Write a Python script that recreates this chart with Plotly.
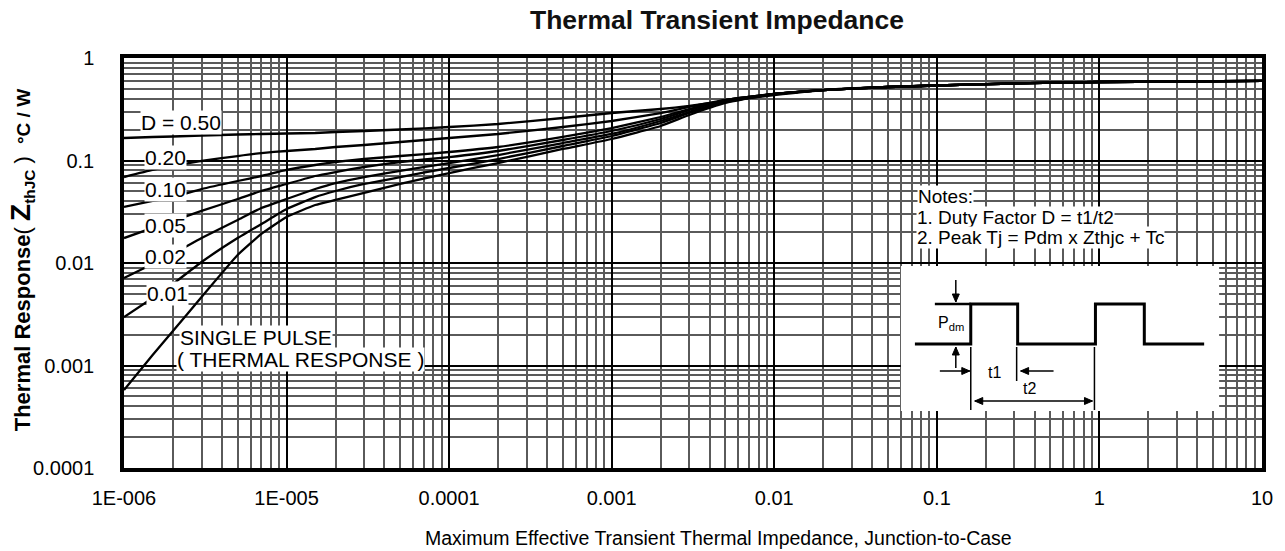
import math
import plotly.graph_objects as go

# ---------------- data ----------------
t_pulse = [1e-6, 1.5e-6, 2e-6, 3e-6, 5e-6, 7e-6, 1e-5, 1.5e-5, 2e-5, 3e-5, 5e-5,
           1e-4, 2e-4, 5e-4, 1e-3, 2e-3, 3e-3, 5e-3, 1e-2,
           2e-2, 5e-2, 0.1, 0.3, 1, 3, 10]

tail = [0.487, 0.521, 0.539, 0.564, 0.583, 0.590, 0.597]

z_d050 = [0.1658, 0.1696, 0.1714, 0.1754, 0.1793, 0.1814, 0.1834, 0.1855, 0.1897, 0.1940,
          0.2006, 0.2122, 0.2270, 0.2598, 0.2906, 0.3180, 0.3401, 0.3805, 0.4355] + tail
z_d020 = [0.0690, 0.0808, 0.0884, 0.0989, 0.1106, 0.1183, 0.1238, 0.1295, 0.1354, 0.1416,
          0.1515, 0.1658, 0.1814, 0.2122, 0.2428, 0.2906, 0.3327, 0.3892, 0.4455] + tail
z_d010 = [0.0352, 0.0403, 0.0440, 0.0527, 0.0631, 0.0706, 0.0808, 0.0904, 0.0967, 0.1034,
          0.1106, 0.1210, 0.1354, 0.1696, 0.2075, 0.2657, 0.3180, 0.3892, 0.4455] + tail
z_d005 = [0.0175, 0.0220, 0.0257, 0.0322, 0.0421, 0.0504, 0.0590, 0.0706, 0.0772, 0.0864,
          0.0967, 0.1081, 0.1238, 0.1585, 0.1940, 0.2541, 0.3109, 0.3892, 0.4455] + tail
z_d002 = [0.00714, 0.00978, 0.01224, 0.0175, 0.0263, 0.0344, 0.0421, 0.0527, 0.0603, 0.0690,
          0.0790, 0.0945, 0.1131, 0.1481, 0.1814, 0.2428, 0.2973, 0.3805, 0.4455] + tail
z_d001 = [0.00297, 0.00456, 0.00624, 0.01023, 0.0175, 0.0240, 0.0336, 0.0440, 0.0504, 0.0590,
          0.0690, 0.0845, 0.1034, 0.1385, 0.1734, 0.2322, 0.2906, 0.3721, 0.4455] + tail
z_single = [0.000577, 0.001265, 0.00217, 0.00466, 0.01197, 0.0192, 0.0281, 0.0368, 0.0412, 0.0482,
            0.0590, 0.0755, 0.0945, 0.1295, 0.1621, 0.2171, 0.2779, 0.3639, 0.4455] + tail

series_names = ["D = 0.50", "0.20", "0.10", "0.05", "0.02", "0.01", "SINGLE PULSE"]
series_values = [z_d050, z_d020, z_d010, z_d005, z_d002, z_d001, z_single]

x_tickvals = [1e-6, 1e-5, 1e-4, 1e-3, 1e-2, 1e-1, 1, 10]
x_ticktext = ["1E-006", "1E-005", "0.0001", "0.001", "0.01", "0.1", "1", "10"]
y_tickvals = [1e-4, 1e-3, 1e-2, 1e-1, 1]
y_ticktext = ["0.0001", "0.001", "0.01", "0.1", "1"]

# ---------------- layout helpers (pixel -> paper) ----------------
W, H = 1285, 551
L, R, T, B = 124, 1265, 58, 468


def PX(x):
    return (x - L) / (R - L)


def PY(y):
    return (B - y) / (B - T)


FONT = "Liberation Sans, Arial, sans-serif"

fig = go.Figure()
for name, vals in zip(series_names, series_values):
    fig.add_trace(go.Scatter(x=t_pulse, y=vals, mode="lines", name=name,
                             line=dict(color="#000000", width=2.3, shape="spline", smoothing=0.4),
                             showlegend=False, hoverinfo="x+y+name"))

axis_common = dict(
    type="log", showline=True, linewidth=3.5, linecolor="#000000", mirror=True,
    showgrid=True, gridcolor="#000000", gridwidth=2.4, zeroline=False,
    ticks="", tickfont=dict(family=FONT, size=20, color="#000000"),
    minor=dict(dtick="D1", showgrid=True, gridcolor="#5a5a5a", gridwidth=2, ticks=""),
)

fig.update_xaxes(range=[-6, 1], tickmode="array", tickvals=x_tickvals, ticktext=x_ticktext,
                 ticklabelstandoff=9, **axis_common)
fig.update_yaxes(range=[-4, 0], tickmode="array", tickvals=y_tickvals, ticktext=y_ticktext,
                 ticklabelstandoff=22, **axis_common)

annotations = []

# curve labels with white backing
label_specs = [
    ("D = 0.50", 140, 122),
    ("0.20", 144, 157),
    ("0.10", 144, 190),
    ("0.05", 144, 225),
    ("0.02", 144, 256),
    ("0.01", 146, 293),
    ("SINGLE PULSE", 179, 337),
    ("( THERMAL RESPONSE )", 176, 359),
]
for txt, lx, ly in label_specs:
    annotations.append(dict(text=txt, x=PX(lx), y=PY(ly), xref="paper", yref="paper",
                            xanchor="left", yanchor="middle", showarrow=False,
                            bgcolor="#ffffff", borderpad=0,
                            font=dict(family=FONT, size=21, color="#000000")))

# notes
notes_specs = [
    ("Notes:", 919, 196),
    ("1. Duty Factor D = t1/t2", 918, 217),
    ("2. Peak Tj = Pdm x Zthjc + Tc", 918, 238),
]
for txt, lx, ly in notes_specs:
    annotations.append(dict(text=txt, x=PX(lx), y=PY(ly), xref="paper", yref="paper",
                            xanchor="left", yanchor="middle", showarrow=False,
                            bgcolor="#ffffff", borderpad=0,
                            font=dict(family=FONT, size=19, color="#000000")))

# inset text
annotations += [
    dict(text="P<sub>dm</sub>", x=PX(953), y=PY(323), xref="paper", yref="paper",
         xanchor="center", yanchor="middle",
         showarrow=False, font=dict(family=FONT, size=16, color="#000000")),
    dict(text="t1", x=PX(997), y=PY(372), xref="paper", yref="paper",
         xanchor="center", yanchor="middle",
         showarrow=False, font=dict(family=FONT, size=16, color="#000000")),
    dict(text="t2", x=PX(1032), y=PY(388), xref="paper", yref="paper",
         xanchor="center", yanchor="middle",
         showarrow=False, font=dict(family=FONT, size=16, color="#000000")),
]

# axis titles
annotations.append(dict(
    text="Maximum Effective Transient Thermal Impedance, Junction-to-Case",
    x=PX(720), y=PY(538), xref="paper", yref="paper", showarrow=False,
    xanchor="center", yanchor="middle", font=dict(family=FONT, size=19.5, color="#000000")))
annotations.append(dict(
    text="<b>Thermal Response</b>( <b><span style='font-size:28px'>Z</span><sub>thJC</sub></b> )  "
         "<b><span style='font-size:19px'>°C / W</span></b>",
    x=PX(21), y=PY(260), xref="paper", yref="paper", showarrow=False, textangle=-90,
    xanchor="center", yanchor="middle", font=dict(family=FONT, size=22, color="#000000")))

# inset drawing (pixel geometry of the schematic)
inset_box = (903, 266, 1222, 411)
wave_x = [917, 973, 973, 1020, 1020, 1098, 1098, 1147, 1147, 1207]
wave_y = [344, 344, 304, 304, 344, 344, 304, 304, 344, 344]
ref_line = ((937, 304), (973, 304))
guide_lines = [((973, 347), (973, 410)), ((1019, 347), (1019, 381)), ((1097, 347), (1097, 410))]
# arrows: (tail, head, double-headed)
arrow_specs = [
    ((958, 280), (958, 302), False),
    ((958, 368), (958, 347), False),
    ((942, 371), (972, 371), False),
    ((1056, 371), (1023, 371), False),
    ((977, 401), (1095, 401), True),
]

shapes = [dict(type="rect", xref="paper", yref="paper",
               x0=PX(inset_box[0]), x1=PX(inset_box[2]), y0=PY(inset_box[3]), y1=PY(inset_box[1]),
               fillcolor="#ffffff", line=dict(width=0), layer="above")]
path = "M " + " L ".join(f"{PX(x):.5f},{PY(y):.5f}" for x, y in zip(wave_x, wave_y))
shapes.append(dict(type="path", xref="paper", yref="paper", path=path,
                   line=dict(color="#000000", width=3), layer="above"))
shapes.append(dict(type="line", xref="paper", yref="paper",
                   x0=PX(ref_line[0][0]), y0=PY(ref_line[0][1]), x1=PX(ref_line[1][0]), y1=PY(ref_line[1][1]),
                   line=dict(color="#000000", width=2.5), layer="above"))
for (x0, y0), (x1, y1) in guide_lines:
    shapes.append(dict(type="line", xref="paper", yref="paper",
                       x0=PX(x0), y0=PY(y0), x1=PX(x1), y1=PY(y1),
                       line=dict(color="#000000", width=1.5), layer="above"))


def arrow_head(tip, frm, length=8.0, half=3.5):
    dx, dy = tip[0] - frm[0], tip[1] - frm[1]
    n = math.hypot(dx, dy)
    ux, uy = dx / n, dy / n
    px_, py_ = -uy, ux
    bx, by = tip[0] - ux * length, tip[1] - uy * length
    pts = [tip, (bx + px_ * half, by + py_ * half), (bx - px_ * half, by - py_ * half)]
    p = "M " + " L ".join(f"{PX(a):.5f},{PY(b):.5f}" for a, b in pts) + " Z"
    return dict(type="path", xref="paper", yref="paper", path=p, fillcolor="#000000",
                line=dict(color="#000000", width=1), layer="above")


for tail_pt, head_pt, double in arrow_specs:
    shapes.append(dict(type="line", xref="paper", yref="paper",
                       x0=PX(tail_pt[0]), y0=PY(tail_pt[1]), x1=PX(head_pt[0]), y1=PY(head_pt[1]),
                       line=dict(color="#000000", width=1.5), layer="above"))
    shapes.append(arrow_head(head_pt, tail_pt))
    if double:
        shapes.append(arrow_head(tail_pt, head_pt))

fig.update_layout(
    width=W, height=H,
    margin=dict(l=L, r=W - R, t=T, b=H - B),
    paper_bgcolor="#ffffff", plot_bgcolor="#ffffff",
    title=dict(text="<b>Thermal Transient Impedance</b>", x=717 / W, xanchor="center",
               y=1 - 20 / H, yanchor="middle", yref="container",
               font=dict(family=FONT, size=26.5, color="#111111")),
    annotations=annotations, shapes=shapes,
    showlegend=False,
)

fig.write_html("out.html")
